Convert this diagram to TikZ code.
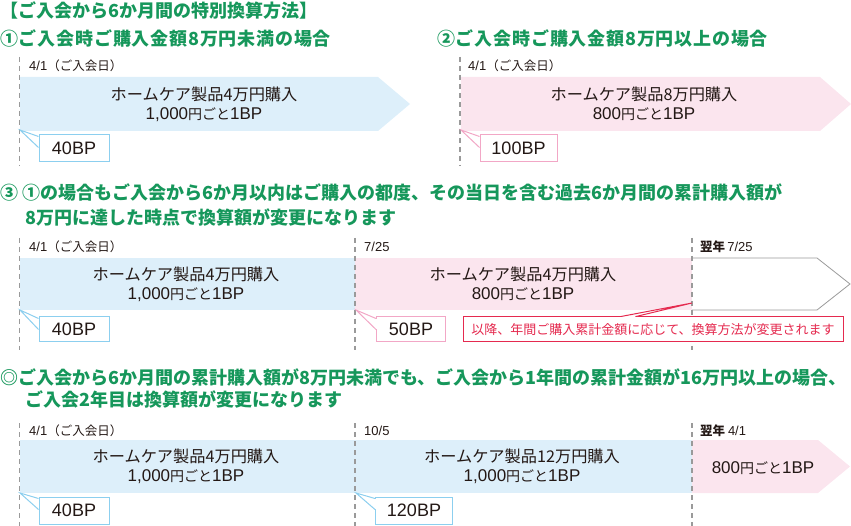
\documentclass[tikz,border=0pt]{standalone}
\usepackage{fontspec}
\setmainfont{Noto Sans CJK JP}
\newfontfamily\lat{Liberation Sans}
\definecolor{hgreen}{HTML}{16975B}
\definecolor{bandblue}{HTML}{DDEFFA}
\definecolor{bandpink}{HTML}{FBE5EE}
\definecolor{callblue}{HTML}{8CCFEF}
\definecolor{callpink}{HTML}{F2A7C6}
\definecolor{callred}{HTML}{E52A4F}
\definecolor{dgray}{HTML}{9A9A9A}
\definecolor{txt}{HTML}{231815}
\newcommand\eg{{\fontsize{14}{14}\selectfont 円ごと}}
\newcommand\bpline[1]{{\lat\fontsize{17}{19}\selectfont #1}\eg{\lat\fontsize{17}{19}\selectfont 1BP}}
\newcommand\dt[1]{{\lat\fontsize{13}{14}\selectfont #1}}
\tikzset{
  hdr/.style={anchor=west, inner sep=0pt, text=hgreen, font=\fontsize{18}{21}\selectfont\bfseries},
  hdrw/.style={hdr, font=\fontsize{18}{21}\selectfont\bfseries\addfontfeatures{LetterSpace=4.5}},
  lbl/.style={anchor=west, inner sep=0pt, text=txt, font=\fontsize{12.5}{14}\selectfont},
  bandtxt/.style={inner sep=0pt, align=center, text=txt, font=\fontsize{16.2}{19}\selectfont},
  tline/.style={draw=dgray, line width=1.6pt, dash pattern=on 5pt off 4pt},
  callbox/.style={draw=#1, line width=1pt, fill=white, inner sep=0pt, text=txt,
     font=\lat\fontsize{18}{20}\selectfont, minimum height=27pt},
}
\newcommand\calltail[3]{% tip, box node, colour
  \fill[white] (#1) -- ([yshift=-2pt]#2.north west) -- ([yshift=-13pt]#2.north west) -- cycle;
  \draw[white, line width=1.4pt] ([yshift=-2.6pt]#2.north west) -- ([yshift=-12.4pt]#2.north west);
  \draw[#3, line width=1pt, line join=miter] ([yshift=-2pt]#2.north west) -- (#1) -- ([yshift=-13pt]#2.north west);
}
\begin{document}
\begin{tikzpicture}[x=1pt, y=-1pt]
\useasboundingbox (0,0) rectangle (851,526);

% ---------- headers
\node[hdr, anchor=north west] (title) at (0,1.5) {【ご入会から6か月間の特別換算方法】};
\node[hdrw] (h1) at (0,38) {①ご入会時ご購入金額8万円未満の場合};
\node[hdrw] (h2) at (437,38) {②ご入会時ご購入金額8万円以上の場合};
\node[hdr] (h3a) at (0,193) {③ ①の場合もご入会から6か月以内はご購入の都度、その当日を含む過去6か月間の累計購入額が};
\node[hdr] (h3b) at (25,217) {8万円に達した時点で換算額が変更になります};
\node[hdr] (h4a) at (0,377) {◎ご入会から6か月間の累計購入額が8万円未満でも、ご入会から1年間の累計金額が16万円以上の場合、};
\node[hdr] (h4b) at (25,399) {ご入会2年目は換算額が変更になります};

% ---------- section 1
\fill[bandblue] (20,77) -- (378,77) -- (410,104) -- (378,131) -- (20,131) -- cycle;
\draw[tline] (19.5,57) -- (19.5,166);
\node[lbl] (l1) at (29,66) {\dt{4/1}（ご入会日）};
\node[bandtxt] (t1) at (204,104) {ホームケア製品4万円購入\\\bpline{1,000}};
\node[callbox=callblue, minimum width=70pt] (c1) at (74,148.5) {40BP};
\coordinate (p1) at (20,130);
\calltail{p1}{c1}{callblue}

% ---------- section 2
\fill[bandpink] (461,77) -- (820,77) -- (851,104) -- (820,131) -- (461,131) -- cycle;
\draw[tline] (460,57) -- (460,166);
\node[lbl] (l2) at (468,66) {\dt{4/1}（ご入会日）};
\node[bandtxt] (t2) at (644,104) {ホームケア製品8万円購入\\\bpline{800}};
\node[callbox=callpink, minimum width=77pt] (c2) at (518.5,148.5) {100BP};
\coordinate (p2) at (461,130);
\calltail{p2}{c2}{callpink}

% ---------- section 3
\fill[bandblue] (20,258) rectangle (355,310);
\fill[bandpink] (355,258) rectangle (692,310);
\draw[dgray, line width=0.8pt, line join=miter] (692,258) -- (817,258) -- (850,284) -- (817,310) -- (692,310);
\draw[tline] (19.5,238) -- (19.5,350);
\draw[tline] (355,238) -- (355,350);
\draw[tline] (692,238) -- (692,350);
\node[lbl] (l3a) at (29,247) {\dt{4/1}（ご入会日）};
\node[lbl] (l3b) at (364,247) {\dt{7/25}};
\node[lbl] (l3c) at (700,247) {\textbf{翌年}\,\dt{7/25}};
\node[bandtxt] (t3a) at (186,284) {ホームケア製品4万円購入\\\bpline{1,000}};
\node[bandtxt] (t3b) at (523,284) {ホームケア製品4万円購入\\\bpline{800}};
\node[callbox=callblue, minimum width=70pt, minimum height=25pt] (c3a) at (74,329.5) {40BP};
\coordinate (p3a) at (20,310);
\calltail{p3a}{c3a}{callblue}
\node[callbox=callpink, minimum width=69pt, minimum height=25pt] (c3b) at (411,329.5) {50BP};
\coordinate (p3b) at (356,310);
\calltail{p3b}{c3b}{callpink}
\node[callbox=callred, minimum width=380pt, minimum height=25pt, text=callred,
      font=\fontsize{13}{15}\selectfont] (c3c) at (653,329.5) {以降、年間ご購入累計金額に応じて、換算方法が変更されます};
\coordinate (p3c) at (692,303);
\fill[white] (p3c) -- ([xshift=-17pt]c3c.north) -- ([xshift=-32pt]c3c.north) -- cycle;
\draw[white, line width=1.4pt] ([xshift=-17.6pt]c3c.north) -- ([xshift=-31.4pt]c3c.north);
\draw[callred, line width=1pt] ([xshift=-32pt]c3c.north) -- (p3c) -- ([xshift=-17pt]c3c.north);

% ---------- section 4
\fill[bandblue] (20,440) rectangle (692,493);
\fill[bandpink] (692,440) -- (818,440) -- (850,466.5) -- (818,493) -- (692,493) -- cycle;
\draw[tline] (19.5,423) -- (19.5,526);
\draw[tline] (355,423) -- (355,526);
\draw[tline] (692,423) -- (692,526);
\node[lbl] (l4a) at (29,431) {\dt{4/1}（ご入会日）};
\node[lbl] (l4b) at (364,431) {\dt{10/5}};
\node[lbl] (l4c) at (700,431) {\textbf{翌年}\ \dt{4/1}};
\node[bandtxt] (t4a) at (186,466) {ホームケア製品4万円購入\\\bpline{1,000}};
\node[bandtxt] (t4b) at (522,466) {ホームケア製品12万円購入\\\bpline{1,000}};
\node[bandtxt] (t4c) at (763,468) {\bpline{800}};
\node[callbox=callblue, minimum width=70pt, minimum height=27pt] (c4a) at (74,510.5) {40BP};
\coordinate (p4a) at (20,493);
\calltail{p4a}{c4a}{callblue}
\node[callbox=callblue, minimum width=77pt, minimum height=27pt] (c4b) at (414,510.5) {120BP};
\coordinate (p4b) at (356,493);
\calltail{p4b}{c4b}{callblue}
\end{tikzpicture}
\end{document}
